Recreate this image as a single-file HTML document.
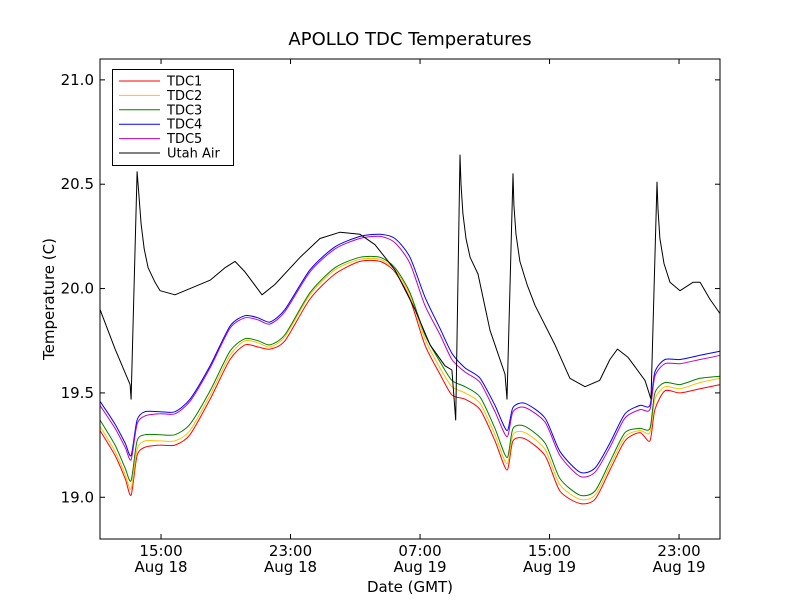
<!DOCTYPE html>
<html><head><meta charset="utf-8"><style>
body{margin:0;background:#fff;}
svg{font-family:"DejaVu Sans","Liberation Sans",sans-serif;}
</style></head><body>
<svg id="chart" width="800" height="600" xmlns="http://www.w3.org/2000/svg">
<rect width="800" height="600" fill="#fff"/>
<text x="410" y="45" font-size="18" text-anchor="middle">APOLLO TDC Temperatures</text>
<g id="plot"></g>
<rect x="100" y="59" width="620" height="480" fill="none" stroke="#000" stroke-width="1"/>
<g id="axes"></g>
<text x="410" y="592" font-size="15" text-anchor="middle">Date (GMT)</text>
<text transform="translate(54,299) rotate(-90)" font-size="15" text-anchor="middle">Temperature (C)</text>
<g id="legend"></g>
</svg>
<script>
// hours since Aug 18 00:00 GMT
const airHours=[11.23,12.16,13.09,13.15,13.52,13.65,13.77,13.96,14.2,14.63,14.94,15.86,16.79,18.03,18.95,19.57,20.19,21.24,22.04,23.59,24.82,26.06,27.29,28.22,29.45,30.69,31.62,32.54,32.97,33.2,33.47,33.53,33.65,33.84,34.09,34.58,35.32,36.25,36.37,36.74,36.8,36.93,37.17,37.61,38.1,39.34,40.26,41.19,42.1,42.73,43.2,43.85,44.9,45.27,45.64,45.7,45.82,46.07,46.44,47.06,47.86,48.3,48.9,49.53];
const airValues=[19.90,19.71,19.54,19.47,20.56,20.43,20.31,20.19,20.10,20.03,19.99,19.97,20.00,20.04,20.10,20.13,20.08,19.97,20.02,20.15,20.24,20.27,20.26,20.21,20.09,19.90,19.73,19.63,19.61,19.37,20.64,20.50,20.36,20.24,20.15,20.07,19.80,19.59,19.47,20.55,20.40,20.26,20.13,20.02,19.92,19.73,19.57,19.53,19.56,19.66,19.71,19.67,19.56,19.47,20.51,20.38,20.24,20.12,20.03,19.99,20.03,20.03,19.95,19.88];
const tdcHours=[11.23,12.16,12.78,13.15,13.52,14.01,14.94,15.86,16.79,18.03,19.26,20.19,20.99,21.73,22.66,24.2,25.75,27.29,28.53,29.45,30.38,31.3,32.23,32.97,33.78,34.71,35.63,36.37,36.74,37.48,38.72,39.64,40.88,41.81,42.73,43.66,44.59,45.2,45.51,46.13,47.06,48.3,49.53];
const tdc1=[19.32,19.20,19.09,19.01,19.20,19.24,19.25,19.25,19.30,19.47,19.66,19.73,19.72,19.71,19.75,19.95,20.07,20.13,20.13,20.08,19.95,19.73,19.59,19.49,19.47,19.42,19.27,19.13,19.27,19.28,19.20,19.03,18.97,18.99,19.13,19.27,19.31,19.27,19.42,19.51,19.50,19.52,19.54];
const tdc2=[19.34,19.22,19.11,19.04,19.23,19.27,19.27,19.27,19.32,19.49,19.68,19.75,19.74,19.72,19.77,19.97,20.09,20.14,20.14,20.09,19.97,19.76,19.62,19.53,19.50,19.45,19.30,19.16,19.30,19.31,19.23,19.06,18.99,19.01,19.15,19.29,19.32,19.31,19.47,19.53,19.52,19.55,19.57];
const tdc3=[19.37,19.25,19.14,19.08,19.27,19.30,19.30,19.30,19.35,19.51,19.70,19.76,19.75,19.73,19.78,19.98,20.10,20.15,20.15,20.10,19.98,19.78,19.65,19.56,19.53,19.48,19.33,19.19,19.33,19.34,19.26,19.09,19.01,19.03,19.17,19.31,19.33,19.33,19.50,19.55,19.54,19.57,19.58];
const tdc4=[19.46,19.35,19.26,19.20,19.37,19.41,19.41,19.41,19.47,19.63,19.82,19.87,19.86,19.84,19.90,20.09,20.20,20.25,20.26,20.24,20.15,19.96,19.81,19.69,19.62,19.57,19.44,19.32,19.43,19.45,19.38,19.22,19.12,19.14,19.26,19.40,19.44,19.44,19.60,19.66,19.66,19.68,19.70];
const tdc5=[19.44,19.33,19.24,19.18,19.35,19.39,19.40,19.40,19.46,19.62,19.81,19.86,19.85,19.83,19.89,20.08,20.19,20.24,20.25,20.22,20.12,19.92,19.78,19.66,19.60,19.55,19.41,19.29,19.41,19.43,19.36,19.20,19.10,19.12,19.24,19.38,19.42,19.42,19.58,19.64,19.64,19.66,19.68];
const yTicks=[19.0,19.5,20.0,20.5,21.0];
const xTickHours=[15,23,31,39,47];
const xTickTime=["15:00","23:00","07:00","15:00","23:00"];
const xTickDate=["Aug 18","Aug 18","Aug 19","Aug 19","Aug 19"];

const L=100,R=720,T=59,B=539,xMin=11.23,xMax=49.53,yMin=18.8,yMax=21.1;
const sx=h=>L+(h-xMin)/(xMax-xMin)*(R-L);
const sy=v=>B-(v-yMin)/(yMax-yMin)*(B-T);
const NS="http://www.w3.org/2000/svg";
function mk(tag,attrs,parent){const e=document.createElementNS(NS,tag);for(const k in attrs)e.setAttribute(k,attrs[k]);parent.appendChild(e);return e;}
function smoothPath(pts){
 let d='M'+pts[0][0].toFixed(1)+','+pts[0][1].toFixed(1);
 for(let i=0;i<pts.length-1;i++){
  const p0=pts[Math.max(0,i-1)],p1=pts[i],p2=pts[i+1],p3=pts[Math.min(pts.length-1,i+2)];
  const k=1/8;
  const c1=[p1[0]+(p2[0]-p0[0])*k,p1[1]+(p2[1]-p0[1])*k];
  const c2=[p2[0]-(p3[0]-p1[0])*k,p2[1]-(p3[1]-p1[1])*k];
  d+='C'+c1[0].toFixed(1)+','+c1[1].toFixed(1)+' '+c2[0].toFixed(1)+','+c2[1].toFixed(1)+' '+p2[0].toFixed(1)+','+p2[1].toFixed(1);
 }
 return d;
}
const plot=document.getElementById('plot');
const series=[
 {name:"TDC1",color:"#ff0000",x:tdcHours,y:tdc1,id:"tdc1",smooth:true},
 {name:"TDC2",color:"#ffbf00",x:tdcHours,y:tdc2,id:"tdc2",smooth:true},
 {name:"TDC3",color:"#008000",x:tdcHours,y:tdc3,id:"tdc3",smooth:true},
 {name:"TDC4",color:"#0000ff",x:tdcHours,y:tdc4,id:"tdc4",smooth:true},
 {name:"TDC5",color:"#bf00bf",x:tdcHours,y:tdc5,id:"tdc5",smooth:true},
 {name:"Utah Air",color:"#000000",x:airHours,y:airValues,id:"utah-air",smooth:false}];
series.forEach(s=>{
 const pts=s.x.map((h,i)=>[sx(h),sy(s.y[i])]);
 const d=s.smooth?smoothPath(pts):pts.map((p,i)=>(i?'L':'M')+p[0].toFixed(1)+','+p[1].toFixed(1)).join('');
 const p=mk('path',{d:d,fill:'none',stroke:s.color,'stroke-width':1,'stroke-linejoin':'round'},plot);
 
 
});
const ax=document.getElementById('axes');
yTicks.forEach(v=>{
 const y=sy(v);
 mk('line',{x1:L,x2:L+5,y1:y,y2:y,stroke:'#000'},ax);
 mk('line',{x1:R-5,x2:R,y1:y,y2:y,stroke:'#000'},ax);
 const t=mk('text',{x:L-6,y:y+5,'font-size':15,'text-anchor':'end'},ax);
 t.textContent=v.toFixed(1);
 
 
});
xTickHours.forEach((h,i)=>{
 const x=sx(h);
 mk('line',{x1:x,x2:x,y1:B,y2:B-5,stroke:'#000'},ax);
 mk('line',{x1:x,x2:x,y1:T,y2:T+5,stroke:'#000'},ax);
 const t=mk('text',{x:x,y:556,'font-size':15,'text-anchor':'middle'},ax);
 t.textContent=xTickTime[i];
 
 
 const t2=mk('text',{x:x,y:572,'font-size':15,'text-anchor':'middle'},ax);
 t2.textContent=xTickDate[i];
 
 
});
const lg=document.getElementById('legend');
mk('rect',{x:112.5,y:69.5,width:121,height:96,fill:'#fff',stroke:'#000'},lg);
series.forEach((s,i)=>{
 const y=81+i*14.4;
 const l=mk('line',{x1:119,x2:160,y1:y,y2:y,stroke:s.color},lg);
 
 
 const t=mk('text',{x:167,y:y+4.5,'font-size':13},lg);
 t.textContent=s.name;
 
 
});
</script>
</body></html>
